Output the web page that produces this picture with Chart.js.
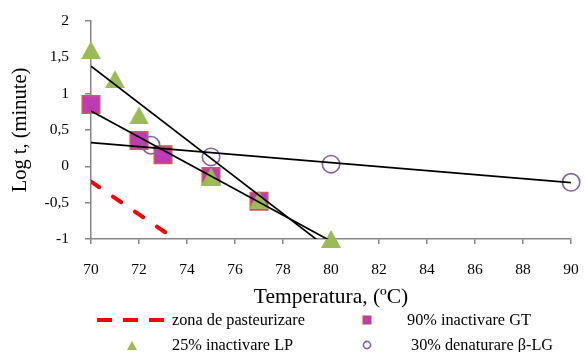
<!DOCTYPE html>
<html><head><meta charset="utf-8">
<script src="https://cdn.jsdelivr.net/npm/chart.js@4"></script>
<style>
html,body{margin:0;padding:0;background:#fff;}
#wrap{position:relative;width:585px;height:352px;font-family:'Liberation Serif',serif;overflow:hidden;}
#c{position:absolute;left:0;top:0;}
#lgsvg{position:absolute;left:0;top:0;}
.lg{position:absolute;font-size:16.3px;line-height:18px;color:#000;white-space:nowrap;}
</style></head><body>
<div id="wrap">
<canvas id="c" width="585" height="352"></canvas>
<svg id="lgsvg" width="585" height="352" xmlns="http://www.w3.org/2000/svg">
  <line x1="97" y1="320" x2="164" y2="320" stroke="#FF0000" stroke-width="4" stroke-dasharray="15 11"/>
  <rect x="363" y="316" width="8" height="8" fill="#BE3CB3" stroke="#C0504D" stroke-width="1"/>
  <polygon points="132,341 137,350 127,350" fill="#9BBB59"/>
  <circle cx="367" cy="345" r="3.6" fill="none" stroke="#8064A2" stroke-width="1.6"/>
</svg>
<div class="lg" style="left:172px;top:311px">zona de pasteurizare</div>
<div class="lg" style="left:407px;top:311px">90% inactivare GT</div>
<div class="lg" style="left:172px;top:336px">25% inactivare LP</div>
<div class="lg" style="left:411px;top:336px">30% denaturare β-LG</div>
</div>
<script>
// Tick values / labels
const xTicks = [70, 72, 74, 76, 78, 80, 82, 84, 86, 88, 90];
const yTicks = [-1, -0.5, 0, 0.5, 1, 1.5, 2];
const yTickLabels = ['-1', '-0,5', '0', '0,5', '1', '1,5', '2'];

// Series: 90% inactivare GT
const gtTemp = [70, 72, 73, 75, 77];
const gtLog = [0.85, 0.355, 0.16, -0.14, -0.48];
// Series: 25% inactivare LP
const lpTemp = [70, 71, 72, 75, 77, 80];
const lpLog = [1.6, 1.2, 0.7, -0.14, -0.46, -1.0];
// Series: 30% denaturare β-LG
const blgTemp = [72.5, 75, 80, 90];
const blgLog = [0.29, 0.13, 0.03, -0.22];
// zona de pasteurizare (dashed line)
const pastTemp = [70, 73.5];
const pastLog = [-0.21, -1.0];
// Trendlines (endpoints)
const lpTrendTemp = [70, 80];
const lpTrendLog = [1.38, -1.16];
const gtTrendTemp = [70, 80];
const gtTrendLog = [0.76, -1.03];
const blgTrendTemp = [70, 90];
const blgTrendLog = [0.325, -0.225];

const pts = (xs, ys) => xs.map((x, i) => ({x: x, y: ys[i]}));

function triangleMarker(w, h, color) {
  const c = document.createElement('canvas');
  c.width = w; c.height = h;
  const g = c.getContext('2d');
  g.fillStyle = color;
  g.beginPath();
  g.moveTo(w / 2, 0); g.lineTo(w, h); g.lineTo(0, h); g.closePath();
  g.fill();
  return c;
}

const FONT = 'Liberation Serif';
const AXIS = '#868686';

const lineDs = (label, xs, ys) => ({
  label: label, data: pts(xs, ys), showLine: true, borderColor: '#000', borderWidth: 1.7,
  pointRadius: 0, pointHoverRadius: 0, fill: false, clip: 0, order: 0
});

new Chart(document.getElementById('c'), {
  type: 'scatter',
  data: {
    datasets: [
      lineDs('trend LP', lpTrendTemp, lpTrendLog),
      lineDs('trend GT', gtTrendTemp, gtTrendLog),
      lineDs('trend β-LG', blgTrendTemp, blgTrendLog),
      {
        label: '30% denaturare β-LG', data: pts(blgTemp, blgLog), pointStyle: 'circle',
        pointRadius: 8.7, pointBackgroundColor: 'rgba(0,0,0,0)', pointBorderColor: '#8064A2',
        pointBorderWidth: 1.6, clip: false, order: 1
      },
      {
        label: '25% inactivare LP', data: pts(lpTemp, lpLog), pointStyle: triangleMarker(20, 18, '#9BBB59'),
        pointRadius: 10, clip: false, order: 2
      },
      {
        label: '90% inactivare GT', data: pts(gtTemp, gtLog), pointStyle: 'rect',
        pointRadius: 12.4, pointBackgroundColor: '#BE3CB3', pointBorderColor: '#CF5A57',
        pointBorderWidth: 1.5, clip: false, order: 3
      },
      {
        label: 'zona de pasteurizare', data: pts(pastTemp, pastLog), showLine: true,
        borderColor: '#FF0000', borderWidth: 4, borderDash: [10, 16.6], borderCapStyle: 'round',
        pointRadius: 0, pointHoverRadius: 0, clip: 0, order: 4
      }
    ]
  },
  options: {
    responsive: false,
    animation: false,
    devicePixelRatio: 1,
    events: [],
    layout: {padding: {left: 0, right: 12, top: 21, bottom: 42}},
    plugins: {legend: {display: false}, tooltip: {enabled: false}},
    scales: {
      x: {
        type: 'linear', position: 'bottom', min: 70, max: 90,
        afterFit: s => { s.height = 71; s.paddingLeft = 0; s.paddingRight = 0; },
        afterBuildTicks: s => { s.ticks = xTicks.map(v => ({value: v})); },
        ticks: {color: '#000', font: {family: FONT, size: 15.5}, padding: 17, maxRotation: 0,
          callback: v => String(v)},
        grid: {display: true, drawOnChartArea: false, drawTicks: true, tickLength: 5, color: AXIS, lineWidth: 1.5},
        border: {display: true, color: AXIS, width: 1.5},
        title: {display: true, text: 'Temperatura, (ºC)', color: '#000', font: {family: FONT, size: 21.5},
          padding: {top: 0, bottom: 0}}
      },
      y: {
        type: 'linear', position: 'left', min: -1, max: 2,
        afterFit: s => { s.width = 91; s.paddingTop = 0; s.paddingBottom = 0; },
        afterBuildTicks: s => { s.ticks = yTicks.map(v => ({value: v})); },
        ticks: {color: '#000', font: {family: FONT, size: 15.5}, padding: 16,
          callback: v => yTickLabels[yTicks.indexOf(v)]},
        grid: {display: true, drawOnChartArea: false, drawTicks: true, tickLength: 6, color: AXIS, lineWidth: 1.5},
        border: {display: true, color: AXIS, width: 1.5},
        title: {display: true, text: 'Log t, (minute)', color: '#000', font: {family: FONT, size: 20.5},
          padding: {top: 8, bottom: 0}}
      }
    }
  }
});
</script>
</body></html>
